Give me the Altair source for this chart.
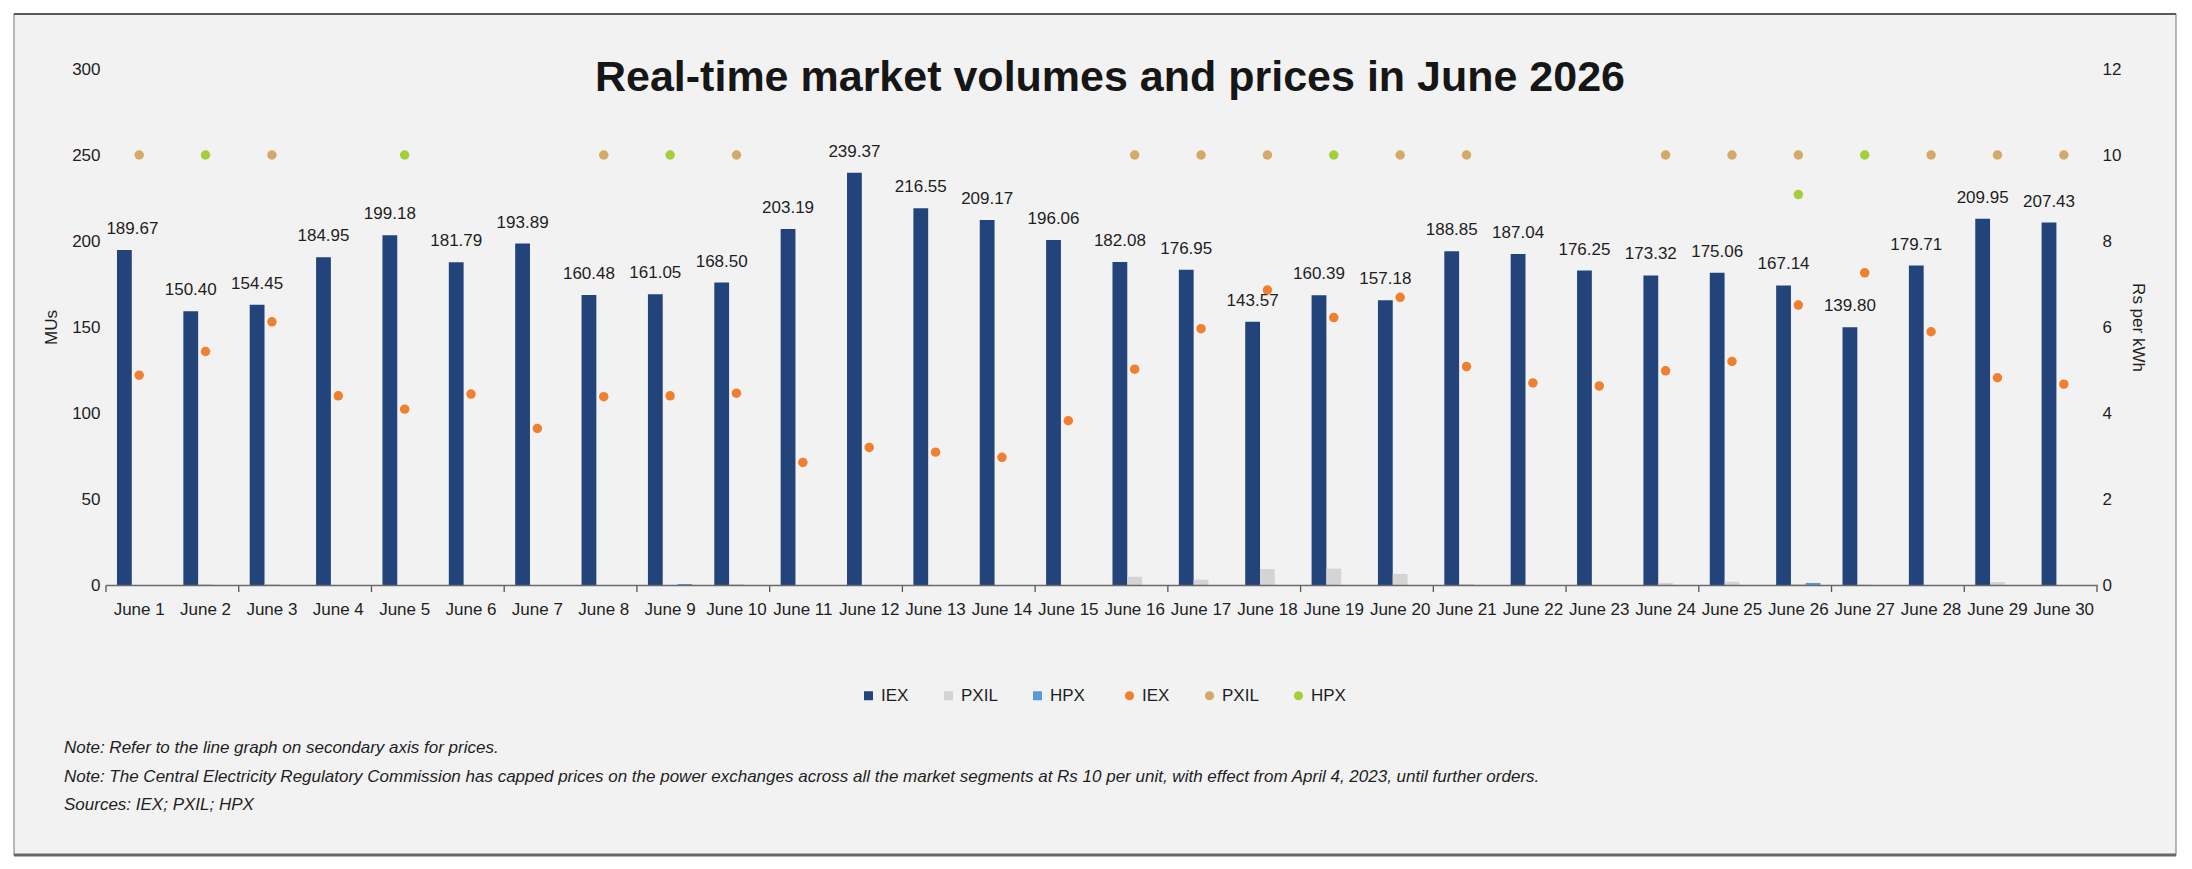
import altair as alt
import pandas as pd

# ---------------- data ----------------
days = ["June 1", "June 2", "June 3", "June 4", "June 5", "June 6", "June 7", "June 8",
        "June 9", "June 10", "June 11", "June 12", "June 13", "June 14", "June 15",
        "June 16", "June 17", "June 18", "June 19", "June 20", "June 21", "June 22",
        "June 23", "June 24", "June 25", "June 26", "June 27", "June 28", "June 29",
        "June 30"]

# IEX volume bars (MUs)
iex_volume = [194.8, 159.1, 163.0, 190.5, 203.3, 187.6, 198.5, 168.6, 169.0, 175.8,
              207.0, 239.7, 219.0, 212.2, 200.6, 187.8, 183.3, 153.1, 168.4, 165.5,
              194.0, 192.4, 182.8, 180.0, 181.6, 174.2, 149.8, 185.7, 213.0, 210.7]
# data labels printed above the IEX bars
iex_labels = ["189.67", "150.40", "154.45", "184.95", "199.18", "181.79", "193.89",
              "160.48", "161.05", "168.50", "203.19", "239.37", "216.55", "209.17",
              "196.06", "182.08", "176.95", "143.57", "160.39", "157.18", "188.85",
              "187.04", "176.25", "173.32", "175.06", "167.14", "139.80", "179.71",
              "209.95", "207.43"]
pxil_volume = [0, 0.6, 0.6, 0, 0, 0, 0, 0, 0, 0.6, 0, 0, 0, 0, 0,
               4.8, 3.1, 9.3, 9.5, 6.4, 0.6, 0, 0, 1.2, 1.9, 0.6, 0.3, 0, 1.7, 0]
hpx_volume = [0, 0, 0, 0, 0, 0, 0, 0, 0.6, 0, 0, 0, 0, 0, 0,
              0, 0, 0, 0, 0, 0, 0, 0, 0, 0, 1.2, 0, 0, 0, 0]

# prices (Rs per kWh), secondary axis
iex_price = [4.88, 5.43, 6.12, 4.40, 4.09, 4.44, 3.64, 4.38, 4.40, 4.46,
             2.85, 3.20, 3.09, 2.97, 3.82, 5.02, 5.96, 6.86, 6.22, 6.69,
             5.08, 4.70, 4.63, 4.98, 5.20, 6.51, 7.26, 5.89, 4.82, 4.67]
pxil_price = [10, None, 10, None, None, None, None, 10, None, 10,
              None, None, None, None, None, 10, 10, 10, None, 10,
              10, None, None, 10, 10, 10, None, 10, 10, 10]
hpx_price = [None, 10, None, None, 10, None, None, None, 10, None,
             None, None, None, None, None, None, None, None, 10, None,
             None, None, None, None, None, 9.08, 10, None, None, None]

series = ["IEX", "PXIL", "HPX"]
bar_colors = ["#23447A", "#D4D4D4", "#5B9BD5"]
dot_colors = ["#F0802F", "#D4AA68", "#A3CF3B"]

title_text = "Real-time market volumes and prices in June 2026"
note_lines = [
    "Note: Refer to the line graph on secondary axis for prices.",
    "Note: The Central Electricity Regulatory Commission has capped prices on the power exchanges across all the market segments at Rs 10 per unit, with effect from April 4, 2023, until further orders.",
    "Sources: IEX; PXIL; HPX",
]
left_ticks = [0, 50, 100, 150, 200, 250, 300]
right_ticks = [0, 2, 4, 6, 8, 10, 12]
tick_days = days[0::2]          # category-boundary ticks every two days
last_day = [days[-1]]

# ---------------- tables ----------------
vol_rows = []
for i, d in enumerate(days):
    for s, vals in zip(series, [iex_volume, pxil_volume, hpx_volume]):
        vol_rows.append({"day": d, "series": s, "volume": vals[i]})
vol_df = pd.DataFrame(vol_rows)

label_df = pd.DataFrame({"day": days, "series": ["IEX"] * len(days),
                         "volume": iex_volume, "label": iex_labels})

price_rows = []
for i, d in enumerate(days):
    for s, vals in zip(series, [iex_price, pxil_price, hpx_price]):
        if vals[i] is not None:
            price_rows.append({"day": d, "exchange": s, "price": vals[i]})
price_df = pd.DataFrame(price_rows)

FONT = "Liberation Sans, Arial, sans-serif"
TXT = "#1e1e1e"
FS = 17
W, H = 1991, 516
P_IN = 0.331
P_OUT = P_IN / 2
HALF_STEP = (W / len(days)) / 2   # px from a band's centre to the category boundary

x_enc = alt.X("day:N", sort=days,
              scale=alt.Scale(domain=days, paddingInner=P_IN, paddingOuter=P_OUT),
              axis=alt.Axis(title=None, labelAngle=0, labelOverlap=False,
                            labelFont=FONT, labelFontSize=FS, labelColor=TXT,
                            labelPadding=16, ticks=False,
                            domainColor="#6a6a6a", domainWidth=1.6, grid=False,
                            zindex=2))

xoff = alt.XOffset("series:N", scale=alt.Scale(domain=series, paddingInner=0, paddingOuter=0))

bars = alt.Chart(vol_df).mark_bar().encode(
    x=x_enc,
    xOffset=xoff,
    y=alt.Y("volume:Q", scale=alt.Scale(domain=[0, 300], nice=False),
            axis=alt.Axis(orient="left", values=left_ticks, title="MUs", domain=False,
                          ticks=False, grid=False, labelFont=FONT, labelFontSize=FS,
                          labelColor=TXT, labelPadding=6, titleFont=FONT,
                          titleFontSize=FS, titleFontWeight="normal", titleColor=TXT,
                          titleX=-55, titleY=258, titleBaseline="middle", titleAngle=270,
                          zindex=2)),
    color=alt.Color("series:N", scale=alt.Scale(domain=series, range=bar_colors),
                    legend=alt.Legend(orient="none", legendX=754, legendY=618,
                                      direction="horizontal", title=None,
                                      symbolType="square", symbolSize=81,
                                      symbolStrokeWidth=0, labelFont=FONT,
                                      labelFontSize=FS, labelColor=TXT,
                                      labelOffset=4, columnPadding=31, padding=0)),
)

# the first label is nudged right to stay inside the plot area (as in the original)
labels_first = alt.Chart(label_df.iloc[:1]).mark_text(
    font=FONT, fontSize=FS, color=TXT, baseline="middle", align="center",
    dy=-21, dx=8).encode(
    x=alt.X("day:N", sort=days), xOffset=xoff, y=alt.Y("volume:Q"), text="label:N")
labels_rest = alt.Chart(label_df.iloc[1:]).mark_text(
    font=FONT, fontSize=FS, color=TXT, baseline="middle", align="center",
    dy=-21).encode(
    x=alt.X("day:N", sort=days), xOffset=xoff, y=alt.Y("volume:Q"), text="label:N")

# x-axis tick marks at category boundaries (every second day, plus the far end)
ticks_start = alt.Chart(pd.DataFrame({"day": tick_days})).mark_rule(
    color="#555555", strokeWidth=1.3, xOffset=-HALF_STEP).encode(
    x=alt.X("day:N", sort=days),
    y=alt.value(H), y2=alt.value(H + 7))
ticks_end = alt.Chart(pd.DataFrame({"day": last_day})).mark_rule(
    color="#555555", strokeWidth=1.3, xOffset=HALF_STEP).encode(
    x=alt.X("day:N", sort=days),
    y=alt.value(H), y2=alt.value(H + 7))

vol_layer = alt.layer(bars, labels_first, labels_rest, ticks_start, ticks_end)

dots = alt.Chart(price_df).mark_circle(size=90, opacity=1).encode(
    x=alt.X("day:N", sort=days),
    y=alt.Y("price:Q", scale=alt.Scale(domain=[0, 12], nice=False),
            axis=alt.Axis(orient="right", values=right_ticks, title="Rs per kWh",
                          domain=False, ticks=False, grid=False, labelFont=FONT,
                          labelFontSize=FS, labelColor=TXT, labelPadding=5,
                          titleFont=FONT, titleFontSize=FS, titleFontWeight="normal",
                          titleColor=TXT, titleX=40, titleY=258,
                          titleBaseline="middle", titleAngle=90, zindex=2)),
    color=alt.Color("exchange:N", scale=alt.Scale(domain=series, range=dot_colors),
                    legend=alt.Legend(orient="none", legendX=1015, legendY=618,
                                      direction="horizontal", title=None,
                                      symbolType="circle", symbolSize=85,
                                      symbolStrokeWidth=0, labelFont=FONT,
                                      labelFontSize=FS, labelColor=TXT,
                                      labelOffset=4, columnPadding=31, padding=0)),
)

one = pd.DataFrame({"k": [0]})
frame = alt.Chart(one).mark_rect(fill="#F2F2F2", stroke="#8a8a8a", strokeWidth=1.2).encode(
    x=alt.value(-92), x2=alt.value(2070), y=alt.value(-55), y2=alt.value(786))
top_edge = alt.Chart(one).mark_rule(color="#5a5a5a", strokeWidth=2).encode(
    x=alt.value(-92), x2=alt.value(2070), y=alt.value(-55))
bottom_edge = alt.Chart(one).mark_rule(color="#666666", strokeWidth=3).encode(
    x=alt.value(-92), x2=alt.value(2070), y=alt.value(786))

title = alt.Chart(pd.DataFrame({"t": [title_text]})).mark_text(
    font=FONT, fontSize=43, fontWeight="bold", color="#161616",
    align="center", baseline="alphabetic").encode(
    x=alt.value(1004), y=alt.value(22), text="t:N")

note_layers = []
for j, (line, yy) in enumerate(zip(note_lines, [679, 708, 736])):
    note_layers.append(
        alt.Chart(pd.DataFrame({"t": [line]})).mark_text(
            font=FONT, fontSize=17, fontStyle="italic", color=TXT,
            align="left", baseline="middle").encode(
            x=alt.value(-42), y=alt.value(yy), text="t:N"))

chart = alt.layer(frame, top_edge, bottom_edge, title, *note_layers,
                  vol_layer, dots).resolve_scale(
    y="independent", color="independent"
).properties(
    width=W, height=H,
    autosize=alt.AutoSizeParams(type="none"),
    padding={"left": 98, "top": 61, "right": 87, "bottom": 276},
    background="white",
).configure_view(stroke=None)

chart.save("out.html", embed_options={"renderer": "svg", "actions": False})
